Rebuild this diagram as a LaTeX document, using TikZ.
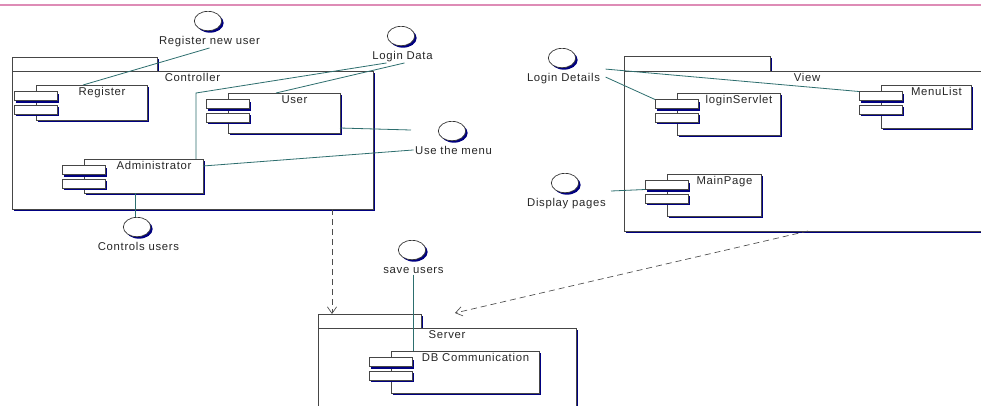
\documentclass[tikz,border=0pt]{standalone}
\usepackage{fontspec}
\setmainfont{Liberation Sans}[LetterSpace=6]
\usetikzlibrary{shapes.geometric,shadows,fit,calc,arrows.meta}

\definecolor{navyshade}{RGB}{0,0,128}
\definecolor{wire}{RGB}{45,110,110}
\definecolor{edge}{RGB}{70,70,70}
\definecolor{rule}{RGB}{222,140,182}

% component: name, left, top, right, bottom, text
\newcommand\umlcomp[6]{%
  \node[compbox, fit={(#2,#3) (#4,#5)}] (#1) {};
  \node[port] (#1-a) at ($(#1.north west)+(-0.5,11)$) {};
  \node[port] (#1-b) at ($(#1.north west)+(-0.5,24.5)$) {};
  \node[lbl, anchor=base] (#1-t) at ($(#1-a.east |- #1.north)!0.5!(#1.north east)+(0,10.5)$) {#6};
}
% package: name, left, tab top, tab right, top, right, bottom, text
\newcommand\umlpkg[8]{%
  \node[compbox, fit={(#2,#3) (#4,#5)}] (#1tab) {};
  \node[compbox, fit={(#2,#5) (#6,#7)}] (#1) {};
  \node[lbl, anchor=base] (#1-t) at ($(#1.north)+(0,10.5)$) {#8};
}

\begin{document}
\begin{tikzpicture}[x=0.75pt,y=-0.75pt,
  compbox/.style={draw=edge, fill=white, line width=0.6pt, inner sep=0pt, outer sep=0pt,
    drop shadow={shadow xshift=1.6pt, shadow yshift=-1.6pt, fill=navyshade, opacity=1}},
  port/.style={compbox, minimum width=32.25pt, minimum height=6.75pt},
  iface/.style={ellipse, draw=black!80, fill=white, line width=0.5pt, inner sep=0pt,
    minimum width=20.5pt, minimum height=14.5pt,
    drop shadow={shadow xshift=1.5pt, shadow yshift=-1.5pt, fill=navyshade, opacity=1}},
  lbl/.style={font=\fontsize{8.5pt}{10pt}\selectfont, text=black!85, inner sep=1pt},
  conn/.style={draw=wire, line width=0.6pt},
  dep/.style={draw=black!70, line width=0.5pt, dash pattern=on 4.5pt off 3pt,
    -{Straight Barb[length=5pt,width=7pt]}}]
  \useasboundingbox (0,0) rectangle (981,405);
  \clip (0,0) rectangle (981,405);
  \draw[rule, line width=0.8pt] (0,5) -- (981,5);

  % packages
  \umlpkg{ctrl}{12}{57}{157}{71}{373}{209}{Controller}
  \umlpkg{view}{624}{56}{770}{71}{990}{231}{View}
  \umlpkg{srv}{318}{314}{421}{328}{576}{420}{Server}

  % components
  \umlcomp{reg}{36}{85}{147}{120}{Register}
  \umlcomp{user}{228}{93}{340}{133}{User}
  \umlcomp{admin}{84}{159}{203}{193}{Administrator}
  \umlcomp{servlet}{677}{93}{780}{135}{loginServlet}
  \umlcomp{menu}{881}{85}{971}{128}{MenuList}
  \umlcomp{mainpg}{667}{174}{761}{216}{MainPage}
  \umlcomp{db}{391}{351}{539}{393}{DB Communication}

  % interfaces
  \foreach \n/\x/\y/\t in {regnew/208/21/Register new user, ldata/401/36/Login Data,
      usemenu/452/131/Use the menu, ctrlusers/137/227/Controls users,
      ldet/562/58/Login Details, disp/565/183/Display pages, save/412/250/save users} {
    \node[iface] (\n) at (\x,\y) {};
    \node[lbl, anchor=base] (\n-l) at (\x+1.5,\y+23) {\t};
  }

  % realizations
  \draw[conn] (regnew-l.south) -- ($(reg.north west)+(47,0)$);
  \coordinate (abend) at ($(admin.north west)+(112,0)$);
  \draw[conn] ($(ldata-l.south)+(-16,0)$) -- (abend |- user.north) -- (abend);
  \draw[conn] ($(ldata-l.south)+(2,0)$) -- ($(user.north west)+(48,0)$);
  \draw[conn] ($(user.south east)+(0,-5)$) -- ($(usemenu.west)+(-27,-1)$);
  \draw[conn] ($(admin.north east)+(0,7)$) -- (usemenu-l.west);
  \draw[conn] ($(admin.south west)+(51,0)$) coordinate (cu) -- (cu |- ctrlusers.north);
  \draw[conn] ($(ldet-l.east)+(4,-9)$) -- (menu-a.north west);
  \draw[conn] ($(ldet-l.east)+(4,-1)$) -- (servlet-a.north west);
  \draw[conn] ($(disp.east)+(32,8)$) -- (mainpg-a.south west);
  \draw[conn] (save-l.south) -- (save-l.south |- db.north);

  % dependencies
  \draw[dep] ($(ctrl.south east)+(-41,0)$) coordinate (dd) -- (dd |- srvtab.north);
  \draw[dep] ($(view.south west)+(184,0)$) -- ($(srvtab.north east)+(34,-1)$);
\end{tikzpicture}
\end{document}
